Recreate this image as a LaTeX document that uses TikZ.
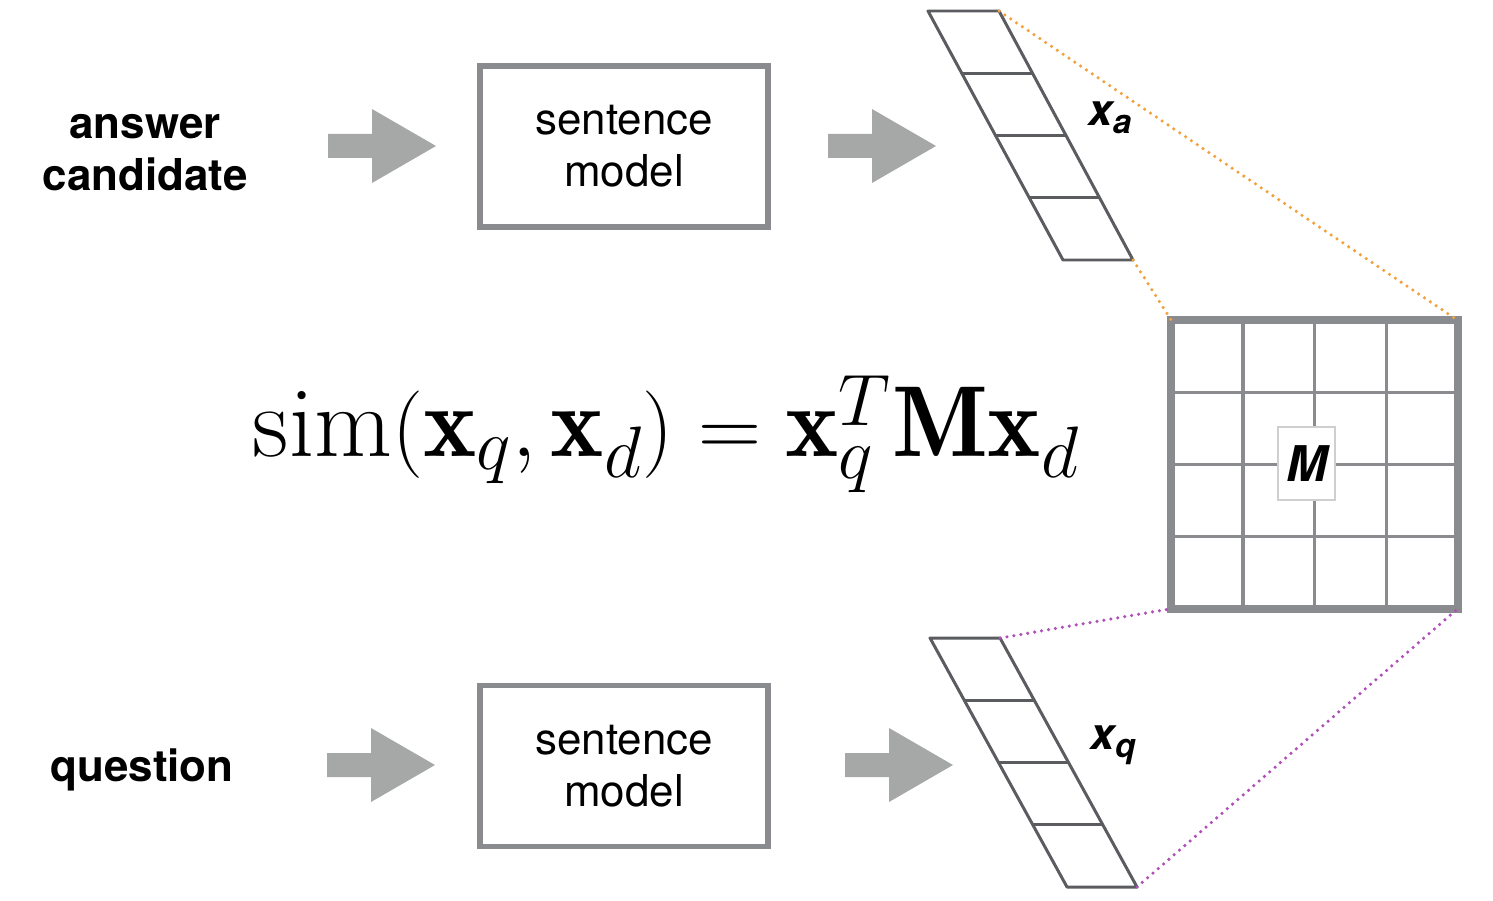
\documentclass[tikz,border=0pt]{standalone}
\usepackage{fontspec}
\setsansfont{TeX Gyre Heros}
\usetikzlibrary{calc,positioning}
\definecolor{Frame}{HTML}{898B8E}
\definecolor{Cell}{HTML}{5A5C60}
\definecolor{Block}{HTML}{A5A8A6}
\definecolor{Amber}{HTML}{F2A13C}
\definecolor{Plum}{HTML}{B04FBA}
\definecolor{Tag}{HTML}{CFCFCF}

\begin{document}
\begin{tikzpicture}[
    font=\sffamily\fontsize{12.5}{14.8}\selectfont,
    modelbox/.style={draw=Frame,line width=1.7pt,minimum width=2.88cm,minimum height=1.61cm,align=center},
    inlabel/.style={font=\sffamily\bfseries\fontsize{12.5}{14.8}\selectfont,align=center},
    veclabel/.style={font=\sffamily\bfseries\itshape\fontsize{12.5}{14}\selectfont},
    cellline/.style={draw=Cell,line width=0.85pt,line join=round},
    dots/.style={line width=1pt,line cap=round,dash pattern=on 0pt off 2pt}
  ]
    \useasboundingbox (0,0) rectangle (14.93,9);
    % inputs and sentence models
    \node[inlabel] (ans) at (1.45,7.47) {answer\\candidate};
    \node[inlabel] (que) at (1.42,1.30) {question};
    \node[modelbox] (sma) at (6.24,7.535) {\raisebox{-0.6ex}{}sentence\\model};
    \node[modelbox] (smq) at (6.24,1.34) {\raisebox{-0.6ex}{}sentence\\model};
    \foreach \x/\y in {3.28/7.54,8.28/7.54,3.27/1.35,8.45/1.35}{
      \fill[Block] (\x,\y) ++(0,0.12) -- ++(0.44,0) -- ++(0,0.25) -- ++(0.64,-0.37)
        -- ++(-0.64,-0.37) -- ++(0,0.25) -- ++(-0.44,0) -- cycle;
    }
    % formula
    \node (eq) at (6.665,4.66) {\fontsize{28.7}{32}\selectfont$\mathrm{sim}(\mathbf{x}_q,\mathbf{x}_d)=\mathbf{x}_q^T\mathbf{M}\mathbf{x}_d$};
    % vectors
    \coordinate (xa-tl) at (9.28,8.89);
    \coordinate (xa-tr) at (9.99,8.89);
    \coordinate (xa-bl) at (10.63,6.40);
    \coordinate (xa-br) at (11.33,6.40);
    \coordinate (xq-tl) at (9.30,2.62);
    \coordinate (xq-tr) at (10.00,2.62);
    \coordinate (xq-bl) at (10.67,0.13);
    \coordinate (xq-br) at (11.37,0.13);
    \foreach \v in {xa,xq}{
      \draw[cellline] (\v-tl) -- (\v-tr) -- (\v-br) -- (\v-bl) -- cycle;
      \foreach \i in {1,2,3}
        \draw[cellline] ($(\v-tl)!\i/4!(\v-bl)$) -- ($(\v-tr)!\i/4!(\v-br)$);
    }
    \node[veclabel] (lxa) at (11.10,7.82) {x\raisebox{-0.35ex}{\fontsize{9.5}{10}\selectfont a}};
    \node[veclabel] (lxq) at (11.13,1.55) {x\raisebox{-0.35ex}{\fontsize{9.5}{10}\selectfont q}};
    % matrix M
    \node[minimum width=2.85cm,minimum height=2.87cm] (mat) at (13.145,4.355) {};
    \foreach \i in {1,2,3}{
      \draw[Frame,line width=0.9pt] ($(mat.north west)!\i/4!(mat.north east)$) -- ($(mat.south west)!\i/4!(mat.south east)$);
      \draw[Frame,line width=0.9pt] ($(mat.north west)!\i/4!(mat.south west)$) -- ($(mat.north east)!\i/4!(mat.south east)$);
    }
    \draw[Frame,line width=2.3pt] (mat.north west) rectangle (mat.south east);
    \node[draw=Tag,fill=white,line width=0.4pt,minimum width=0.57cm,minimum height=0.73cm,inner sep=0pt,
      font=\sffamily\bfseries\itshape\fontsize{14}{14}\selectfont] (mlab) at (13.065,4.365) {M};
    % projections
    \draw[Amber,dots] (xa-tr) -- (mat.north east);
    \draw[Amber,dots] (xa-br) -- (mat.north west);
    \draw[Plum,dots] (xq-tr) -- (mat.south west);
    \draw[Plum,dots] (xq-br) -- (mat.south east);
\end{tikzpicture}
\end{document}
